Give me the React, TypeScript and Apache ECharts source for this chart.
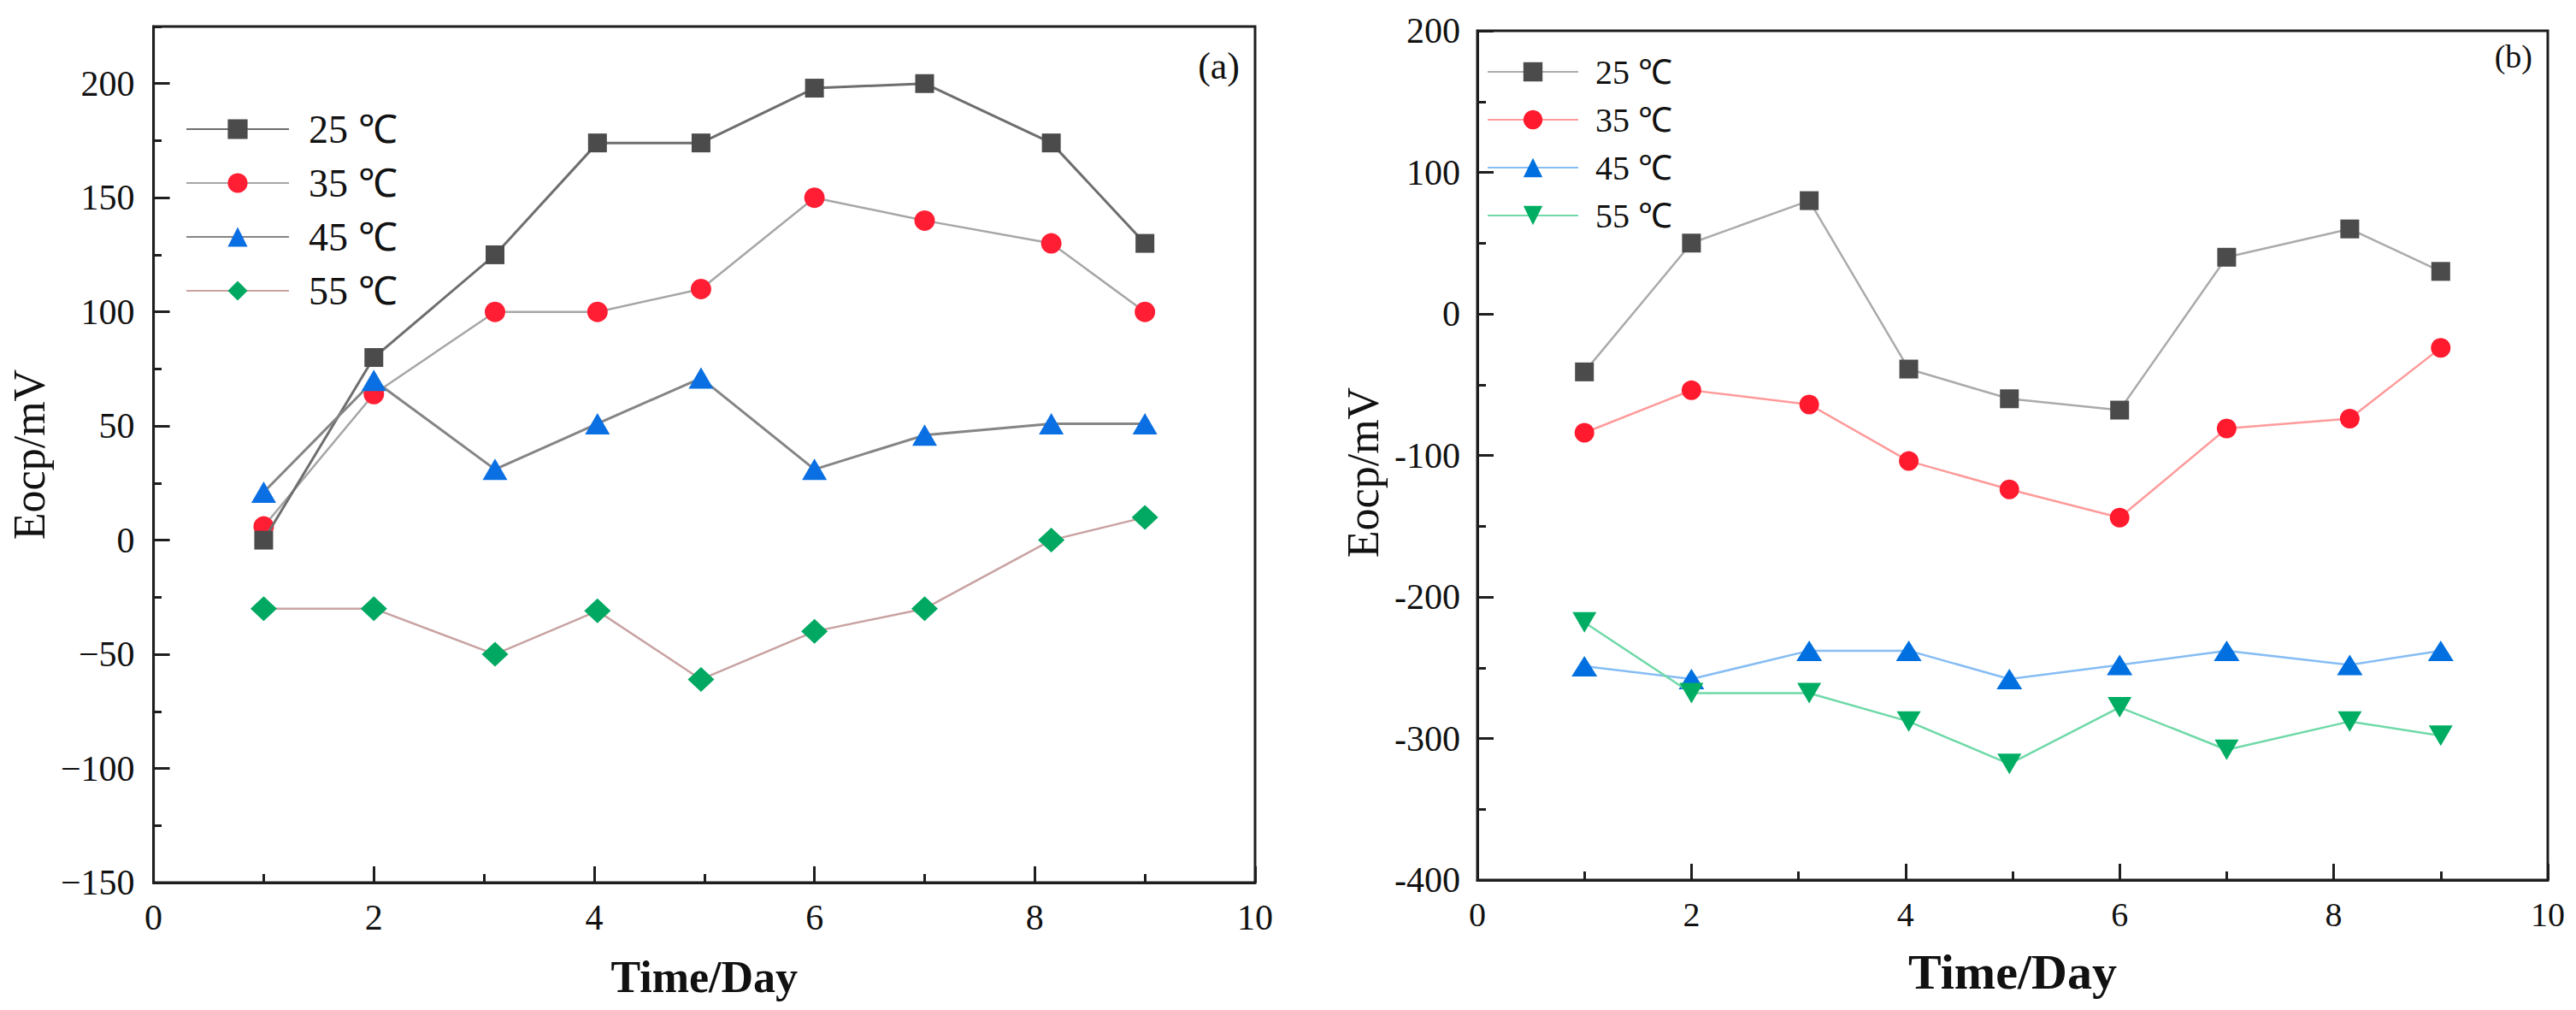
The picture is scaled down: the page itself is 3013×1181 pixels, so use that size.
import React, { useEffect, useRef } from 'react';
import * as echarts from 'echarts';

const days = [1, 2, 3.1, 4.03, 4.97, 6, 7, 8.15, 9];
const legendNames = ['25 ℃', '35 ℃', '45 ℃', '55 ℃'];

const a25 = [0, 80, 125, 174, 174, 198, 200, 174, 130];
const a35 = [6, 64, 100, 100, 110, 150, 140, 130, 100];
const a45 = [21, 70, 31, 51, 71, 31, 46, 51, 51];
const a55 = [-30, -30, -50, -31, -61, -40, -30, 0, 10];

const b25 = [-41, 50, 80, -39, -60, -68, 40, 60, 30];
const b35 = [-84, -54, -64, -104, -124, -144, -81, -74, -24];
const b45 = [-249, -258, -238, -238, -258, -248, -238, -248, -238];
const b55 = [-218, -268, -268, -288, -318, -278, -308, -288, -298];

const xTicks = [0, 2, 4, 6, 8, 10];
const yTicksA = [-150, -100, -50, 0, 50, 100, 150, 200];
const yTicksB = [-400, -300, -200, -100, 0, 100, 200];

const serif = 'Liberation Serif';
const ink = '#1e1e1e';

const pts = (ys: number[]) => days.map((d, i) => [d, ys[i]]);

function axisBase() {
  return {
    axisLine: { show: true, onZero: false, lineStyle: { color: ink, width: 3 } },
    axisTick: { show: true, inside: true, length: 19, lineStyle: { color: ink, width: 3 } },
    splitLine: { show: false },
  };
}

const labelStyle = (size: number, margin: number) => ({
  fontSize: size,
  fontFamily: serif,
  fontWeight: 'normal',
  color: '#111',
  margin,
  showMinLabel: true,
  showMaxLabel: true,
});

function leftOption() {
  const gridRect = { left: 179, top: 31, width: 1289, height: 1001 };
  return {
    animation: false,
    textStyle: { fontFamily: serif },
    grid: [
      { ...gridRect, show: true, borderColor: ink, borderWidth: 3, backgroundColor: 'transparent' },
      { ...gridRect, show: false },
    ],
    xAxis: [
      {
        type: 'value', gridIndex: 0, min: xTicks[0], max: xTicks[xTicks.length - 1], interval: 2,
        ...axisBase(),
        minorTick: { show: true, splitNumber: 2, length: 10, lineStyle: { color: ink, width: 3 } },
        axisLabel: labelStyle(42, 20),
        name: 'Time/Day', nameLocation: 'middle', nameGap: 84,
        nameTextStyle: { fontSize: 52, fontFamily: serif, color: '#111', fontWeight: 'bold' },
      },
      { type: 'value', gridIndex: 1, min: 0, max: 10, show: false },
    ],
    yAxis: [
      {
        type: 'value', gridIndex: 0, min: yTicksA[0], max: 225, interval: 50,
        ...axisBase(),
        axisLabel: {
          ...labelStyle(42, 22),
          showMaxLabel: false,
          formatter: (v: number) => (yTicksA.indexOf(v) < 0 ? '' : v < 0 ? '−' + Math.abs(v) : String(v)),
        },
        name: 'Eocp/mV', nameLocation: 'middle', nameGap: 113, nameRotate: 90,
        nameTextStyle: { fontSize: 52, fontFamily: serif, color: '#111' },
      },
      {
        type: 'value', gridIndex: 1, min: -150, max: 225, interval: 25,
        axisLine: { show: false, onZero: false },
        axisTick: { show: true, inside: true, length: 10, lineStyle: { color: ink, width: 3 } },
        axisLabel: { show: false },
        splitLine: { show: false },
      },
    ],
    legend: {
      orient: 'vertical', left: 212, top: 123, itemWidth: 120, itemHeight: 29, itemGap: 17,
      data: legendNames, selectedMode: false,
      textStyle: { fontSize: 46, fontFamily: serif, color: '#111', padding: [0, 0, 0, 18] },
    },
    graphic: [
      {
        type: 'text', x: 1450, y: 77,
        style: { text: '(a)', fontSize: 44, fontFamily: serif, fill: '#111', align: 'right', verticalAlign: 'middle' },
      },
    ],
    series: [
      {
        name: legendNames[0], type: 'line', xAxisIndex: 0, yAxisIndex: 0, data: pts(a25),
        symbol: 'rect', symbolSize: 22, itemStyle: { color: '#4b4b4b' }, lineStyle: { color: '#6e6e6e', width: 3 }, z: 3,
      },
      {
        name: legendNames[1], type: 'line', xAxisIndex: 0, yAxisIndex: 0, data: pts(a35),
        symbol: 'circle', symbolSize: 24, itemStyle: { color: '#ff1e34' }, lineStyle: { color: '#a6a6a6', width: 2.5 }, z: 2,
      },
      {
        name: legendNames[2], type: 'line', xAxisIndex: 0, yAxisIndex: 0, data: pts(a45),
        symbol: 'triangle', symbolSize: [29, 25], itemStyle: { color: '#0a6fe2' }, lineStyle: { color: '#858585', width: 3 }, z: 4,
      },
      {
        name: legendNames[3], type: 'line', xAxisIndex: 0, yAxisIndex: 0, data: pts(a55),
        symbol: 'diamond', symbolSize: [31, 29], itemStyle: { color: '#00a862' }, lineStyle: { color: '#c9a2a2', width: 2.5 }, z: 5,
      },
    ],
  };
}

function rightOption() {
  return {
    animation: false,
    textStyle: { fontFamily: serif },
    grid: [{ left: 154, top: 36, width: 1266, height: 993, show: true, borderColor: ink, borderWidth: 3, backgroundColor: 'transparent' }],
    xAxis: [
      {
        type: 'value', min: xTicks[0], max: xTicks[xTicks.length - 1], interval: 2,
        ...axisBase(),
        minorTick: { show: true, splitNumber: 2, length: 10, lineStyle: { color: ink, width: 3 } },
        axisLabel: labelStyle(40, 20),
        name: 'Time/Day', nameLocation: 'middle', nameGap: 78,
        nameTextStyle: { fontSize: 58, fontFamily: serif, color: '#111', fontWeight: 'bold' },
      },
    ],
    yAxis: [
      {
        type: 'value', min: yTicksB[0], max: yTicksB[yTicksB.length - 1], interval: 100,
        ...axisBase(),
        minorTick: { show: true, splitNumber: 2, length: 10, lineStyle: { color: ink, width: 3 } },
        axisLabel: labelStyle(42, 20),
        name: 'Eocp/mV', nameLocation: 'middle', nameGap: 108, nameRotate: 90,
        nameTextStyle: { fontSize: 52, fontFamily: serif, color: '#111', padding: [0, 40, 0, 0] },
      },
    ],
    legend: {
      orient: 'vertical', left: 174, top: 59, itemWidth: 106, itemHeight: 28, itemGap: 16,
      data: legendNames, selectedMode: false,
      textStyle: { fontSize: 40, fontFamily: serif, color: '#111', padding: [0, 0, 0, 15] },
    },
    graphic: [
      {
        type: 'text', x: 1402, y: 66,
        style: { text: '(b)', fontSize: 38, fontFamily: serif, fill: '#111', align: 'right', verticalAlign: 'middle' },
      },
    ],
    series: [
      {
        name: legendNames[0], type: 'line', data: pts(b25),
        symbol: 'rect', symbolSize: 22, itemStyle: { color: '#4b4b4b' }, lineStyle: { color: '#ababab', width: 2.5 }, z: 3,
      },
      {
        name: legendNames[1], type: 'line', data: pts(b35),
        symbol: 'circle', symbolSize: 23, itemStyle: { color: '#ff1a2e' }, lineStyle: { color: '#ff9a9a', width: 2.5 }, z: 2,
      },
      {
        name: legendNames[2], type: 'line', data: pts(b45),
        symbol: 'triangle', symbolSize: [30, 24], itemStyle: { color: '#0070e0' }, lineStyle: { color: '#86bdf4', width: 2.5 }, z: 4,
      },
      {
        name: legendNames[3], type: 'line', data: pts(b55),
        symbol: 'triangle', symbolRotate: 180, symbolSize: [28, 24], itemStyle: { color: '#00ad62' }, lineStyle: { color: '#6fd9a8', width: 2.5 }, z: 5,
      },
    ],
  };
}

export default function App() {
  const leftRef = useRef<HTMLDivElement>(null);
  const rightRef = useRef<HTMLDivElement>(null);

  useEffect(() => {
    document.body.style.margin = '0';
    const c1 = echarts.init(leftRef.current!, undefined, { renderer: 'svg' });
    const c2 = echarts.init(rightRef.current!, undefined, { renderer: 'svg' });
    c1.setOption(leftOption() as any);
    c2.setOption(rightOption() as any);
    return () => {
      c1.dispose();
      c2.dispose();
    };
  }, []);

  return (
    <div style={{ position: 'relative', width: 3013, height: 1181, background: '#fff', overflow: 'hidden' }}>
      <div ref={leftRef} style={{ position: 'absolute', left: 0, top: 0, width: 1560, height: 1181 }} />
      <div ref={rightRef} style={{ position: 'absolute', left: 1560, top: 0, width: 1453, height: 1181 }} />
    </div>
  );
}
